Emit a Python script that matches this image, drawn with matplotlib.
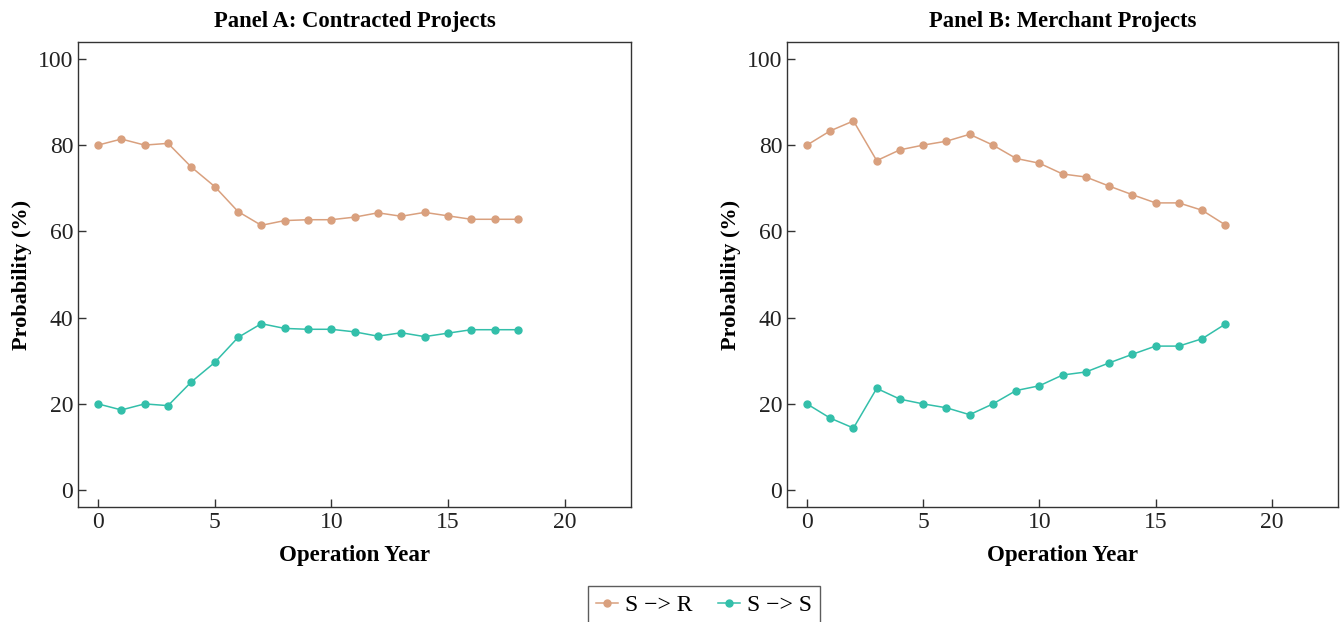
import matplotlib
matplotlib.use("Agg")
import matplotlib.pyplot as plt

years = list(range(19))

# Panel A: contracted projects (probabilities in %)
contracted_sr = [80.0, 81.4, 80.0, 80.4, 74.9, 70.4, 64.6, 61.4, 62.5, 62.7,
                 62.7, 63.3, 64.3, 63.5, 64.4, 63.6, 62.8, 62.8, 62.8]
contracted_ss = [20.0, 18.6, 20.0, 19.6, 25.1, 29.6, 35.4, 38.6, 37.5, 37.3,
                 37.3, 36.7, 35.7, 36.5, 35.6, 36.4, 37.2, 37.2, 37.2]

# Panel B: merchant projects
merchant_sr = [80.0, 83.3, 85.6, 76.4, 78.9, 80.0, 80.9, 82.5, 80.0, 76.9,
               75.8, 73.3, 72.6, 70.5, 68.5, 66.6, 66.6, 64.9, 61.5]
merchant_ss = [20.0, 16.7, 14.4, 23.6, 21.1, 20.0, 19.1, 17.5, 20.0, 23.1,
               24.2, 26.7, 27.4, 29.5, 31.5, 33.4, 33.4, 35.1, 38.5]

titles = ["Panel A: Contracted Projects", "Panel B: Merchant Projects"]
labels = ["S \u2212> R", "S \u2212> S"]
orange = "#D9A07E"
teal = "#33BFAA"

plt.rcParams['font.family'] = ['Liberation Serif', 'DejaVu Serif']

fig = plt.figure(figsize=(13.4, 6.22), dpi=100)
ax1 = fig.add_axes([78 / 1340, 1 - 507 / 622, 553 / 1340, 465 / 622])
ax2 = fig.add_axes([787 / 1340, 1 - 507 / 622, 551 / 1340, 465 / 622])

panels = [(ax1, contracted_sr, contracted_ss), (ax2, merchant_sr, merchant_ss)]
for i, (ax, sr, ss) in enumerate(panels):
    ax.plot(years, sr, color=orange, marker='o', markersize=5, linewidth=1.1, label=labels[0])
    ax.plot(years, ss, color=teal, marker='o', markersize=5, linewidth=1.1, label=labels[1])
    ax.set_xlim(-0.86, 22.85)
    ax.set_ylim(-3.9, 103.9)
    ax.set_xticks([0, 5, 10, 15, 20])
    ax.set_yticks([0, 20, 40, 60, 80, 100])
    ax.tick_params(direction='in', length=6, width=1, colors='#333333',
                   labelsize=17, labelcolor='#222222')
    for s in ax.spines.values():
        s.set_color('#333333')
        s.set_linewidth(1)
    ax.set_title(titles[i], fontsize=16.3, fontweight='bold', pad=11)
    ax.set_xlabel("Operation Year", fontsize=16.5, fontweight='bold', labelpad=9)
    ax.set_ylabel("Probability (%)", fontsize=16, fontweight='bold', labelpad=4)

handles, lbls = ax1.get_legend_handles_labels()
leg = fig.legend(handles, lbls, loc='upper center', bbox_to_anchor=(704 / 1340, 1 - 586 / 622),
                 ncol=2, fontsize=17, frameon=True, fancybox=False, edgecolor='#333333',
                 handlelength=0.95, handletextpad=0.3, columnspacing=1.05,
                 borderpad=0.35, borderaxespad=0)
leg.get_frame().set_linewidth(1)

fig.savefig("out.png", dpi=100)
